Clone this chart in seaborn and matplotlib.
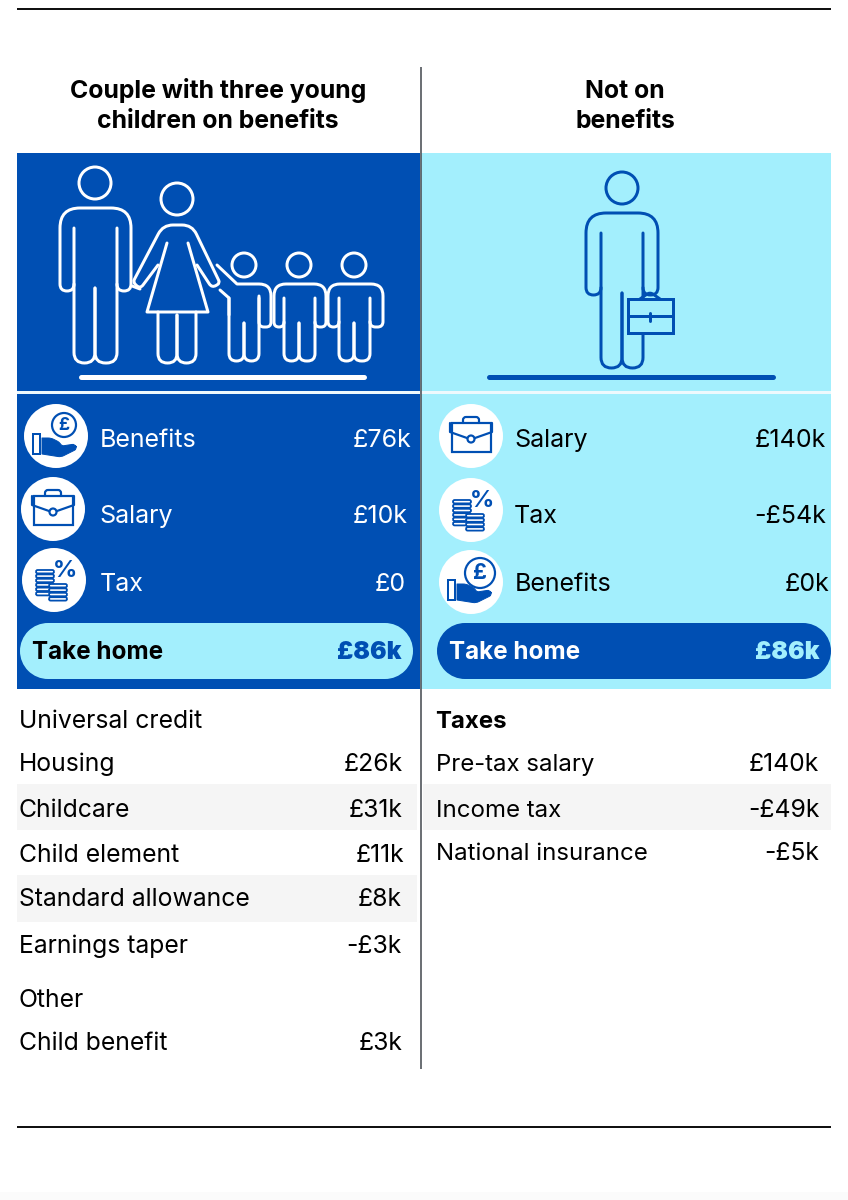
import matplotlib
matplotlib.use("Agg")
import matplotlib.pyplot as plt
import seaborn as sns
from matplotlib.patches import Circle, FancyBboxPatch, PathPatch, Rectangle
from matplotlib.path import Path

BLUE = "#004fb3"
CYAN = "#a3effd"
STRIPE = "#f5f5f5"
DIVIDER = "#4a4f55"

left_title = ["Couple with three young", "children on benefits"]
right_title = ["Not on", "benefits"]

left_summary_labels = ["Benefits", "Salary", "Tax"]
left_summary_values = ["£76k", "£10k", "£0"]
right_summary_labels = ["Salary", "Tax", "Benefits"]
right_summary_values = ["£140k", "-£54k", "£0k"]
take_home = "£86k"

left_detail_labels = ["Universal credit", "Housing", "Childcare", "Child element",
                      "Standard allowance", "Earnings taper", "Other", "Child benefit"]
left_detail_values = ["", "£26k", "£31k", "£11k", "£8k", "-£3k", "", "£3k"]
right_detail_labels = ["Taxes", "Pre-tax salary", "Income tax", "National insurance"]
right_detail_values = ["", "£140k", "-£49k", "-£5k"]

# layout, all in image pixels
left_summary_y = [447, 523, 591]
left_summary_x = [100, 99, 100]
left_summary_right = [411, 408, 406]
right_summary_y = [447, 523, 591]
right_summary_x = [514, 514, 515]
right_summary_right = [826, 826, 829]
left_detail_y = [728, 771, 817, 862, 906, 953, 1007, 1050]
left_detail_right = [403, 403, 402, 404, 402, 402, 403, 403]
right_detail_y = [728, 771, 817, 860]
right_detail_right = [819, 819, 820, 819]

sns.set_theme(style="white")
plt.rcParams["font.family"] = ["Inter", "DejaVu Sans"]

W, H = 848, 1200
fig = plt.figure(figsize=(W / 100, H / 100), dpi=100)
ax = fig.add_axes([0, 0, 1, 1])
ax.set_xlim(0, W)
ax.set_ylim(H, 0)
ax.axis("off")


def px(v):
    # pixel width -> points
    return v * 72 / 100


def round_line(points, color, lw=3, fill=None, zorder=5, closed=False):
    # points are (x, y) or (x, y, corner radius)
    pts = [(p[0], p[1], p[2] if len(p) > 2 else 0) for p in points]
    verts, codes = [pts[0][:2]], [Path.MOVETO]
    for i in range(1, len(pts) - 1):
        x, y, r = pts[i]
        if r == 0:
            verts.append((x, y))
            codes.append(Path.LINETO)
            continue
        x0, y0 = pts[i - 1][:2]
        x1, y1 = pts[i + 1][:2]
        d0 = ((x0 - x) ** 2 + (y0 - y) ** 2) ** 0.5
        d1 = ((x1 - x) ** 2 + (y1 - y) ** 2) ** 0.5
        a = (x + (x0 - x) * r / d0, y + (y0 - y) * r / d0)
        b = (x + (x1 - x) * r / d1, y + (y1 - y) * r / d1)
        verts += [a, (x, y), b]
        codes += [Path.LINETO, Path.CURVE3, Path.CURVE3]
    verts.append(pts[-1][:2])
    codes.append(Path.LINETO)
    if closed:
        verts.append(pts[0][:2])
        codes.append(Path.CLOSEPOLY)
    ax.add_patch(PathPatch(Path(verts, codes), fc=fill or "none", ec=color, lw=px(lw),
                           capstyle="round", joinstyle="round", zorder=zorder))


def head(cx, cy, r, color, lw=3):
    ax.add_patch(Circle((cx, cy), r, fc="none", ec=color, lw=px(lw), zorder=5))


def legs(l, r, cx, crotch, bottom, color, lw=3, top=None):
    start = top if top else crotch - 10
    rad = (cx - l) / 2
    round_line([(l, start), (l, bottom, rad), (cx, bottom, rad), (cx, crotch)], color, lw)
    round_line([(r, start), (r, bottom, rad), (cx, bottom, rad), (cx, crotch)], color, lw)


def figure_body(cx, head_y, head_r, outer_l, outer_r, inner_l, inner_r, top, inner_top,
                arm_bottom, crotch, bottom, color, shoulder=20, lw=3):
    head(cx, head_y, head_r, color, lw)
    arm_r = (inner_l - outer_l) / 2
    round_line([(inner_l, arm_bottom - arm_r), (inner_l, arm_bottom, arm_r), (outer_l, arm_bottom, arm_r),
                (outer_l, top, shoulder), (outer_r, top, shoulder), (outer_r, arm_bottom, arm_r),
                (inner_r, arm_bottom, arm_r), (inner_r, arm_bottom - arm_r)], color, lw)
    legs(inner_l, inner_r, cx, crotch, bottom, color, lw=lw, top=inner_top)


def family():
    c = "white"
    figure_body(95, 183, 16, 60, 131, 74, 117, 208, 228, 291, 288, 363, c)
    # woman
    head(177, 199, 16, c)
    round_line([(158, 265), (140, 289, 5), (133, 282, 3), (163, 225, 10), (192, 225, 10),
                (220, 283, 3), (212, 288, 5), (197, 265)], c)
    round_line([(167, 243), (147, 312), (208, 312), (188, 243)], c)
    round_line([(140, 289), (132, 286)], c)
    legs(158, 196, 177, 315, 363, c, top=312)
    # child holding the woman's hand
    head(244, 265, 12, c)
    round_line([(217, 265), (237, 284), (271, 284, 12), (271, 327, 5), (259, 327, 5), (259, 296)], c)
    round_line([(220, 290), (229, 298), (229, 315)], c)
    legs(229, 259, 244, 323, 361, c, top=298)
    figure_body(299, 265, 12, 274, 326, 284, 315, 284, 298, 327, 323, 361, c, shoulder=12)
    figure_body(354, 265, 12, 328, 383, 339, 370, 284, 298, 327, 323, 361, c, shoulder=12)
    round_line([(81, 377), (364, 377)], c, lw=5)


def lone_man():
    c = BLUE
    figure_body(622, 188, 16, 586, 658, 601, 643, 213, 233, 295, 293, 368, c)
    round_line([(640, 299), (650, 292, 4), (660, 299)], c)
    ax.add_patch(Rectangle((628, 299), 45, 34, fc=CYAN, ec=c, lw=px(3), zorder=6))
    round_line([(628, 316), (673, 316)], c, zorder=7)
    round_line([(650, 313), (650, 321)], c, lw=3, zorder=7)
    round_line([(489, 377), (773, 377)], c, lw=5)


def icon_case(cx, cy):
    c = BLUE
    lw = 2.2
    ax.add_patch(Rectangle((cx - 19, cy - 13), 39, 29, fc="none", ec=c, lw=px(lw), zorder=5))
    round_line([(cx - 21, cy - 13), (cx - 21, cy - 4), (cx - 4, cy + 2)], c, lw)
    round_line([(cx + 21, cy - 13), (cx + 21, cy - 4), (cx + 4, cy + 2)], c, lw)
    round_line([(cx - 8, cy - 13), (cx - 8, cy - 19, 3), (cx + 8, cy - 19, 3), (cx + 8, cy - 13)], c, lw)
    ax.add_patch(Circle((cx, cy + 3), 3.5, fc="white", ec=c, lw=px(lw), zorder=6))


def icon_coins(cx, cy):
    c = BLUE
    lw = 1.8
    for sx, y0, n in [(cx - 9, cy - 10, 6), (cx + 4, cy + 4, 4)]:
        for i in range(n):
            y = y0 + i * 4.4
            ax.add_patch(FancyBboxPatch((sx - 9, y), 18, 3.4, boxstyle="round,pad=0,rounding_size=1.7",
                                        fc="white", ec=c, lw=px(lw), zorder=5 + (sx > cx - 5)))
    ax.text(cx + 11, cy - 9, "%", color=c, fontsize=px(24), fontweight="bold", ha="center", va="center", zorder=7)


def icon_hand(cx, cy, coin_dx=8, coin_dy=-11, coin_r=12):
    c = BLUE
    ax.add_patch(Rectangle((cx - 23, cy - 2), 6.5, 20, fc="none", ec=c, lw=px(2), zorder=5))
    round_line([(cx - 14, cy + 2), (cx - 5, cy + 2, 3), (cx + 3, cy + 6, 2), (cx + 6, cy + 10, 2), (cx + 19, cy + 8, 3),
                (cx + 21, cy + 13, 3), (cx + 5, cy + 21, 3), (cx - 14, cy + 18)], c, lw=1, fill=c, closed=True)
    ax.add_patch(Circle((cx + coin_dx, cy + coin_dy), coin_r, fc="white", ec=c, lw=px(2.2), zorder=6))
    ax.text(cx + coin_dx, cy + coin_dy, "£", color=c, fontsize=px(coin_r * 1.45), fontweight="bold",
            ha="center", va="center", zorder=7)


def pill(x0, x1, y0, y1, color):
    r = (y1 - y0) / 2
    ax.add_patch(Rectangle((x0 + r, y0), x1 - x0 - 2 * r, y1 - y0, fc=color, ec="none", zorder=3))
    ax.add_patch(Circle((x0 + r, y0 + r), r, fc=color, ec="none", zorder=3))
    ax.add_patch(Circle((x1 - r, y0 + r), r, fc=color, ec="none", zorder=3))


# background panels and rules
ax.add_patch(Rectangle((17, 153), 403, 536, fc=BLUE, ec="none", zorder=1))
ax.add_patch(Rectangle((421, 153), 410, 536, fc=CYAN, ec="none", zorder=1))
ax.add_patch(Rectangle((17, 391), 814, 3, fc="#eef9fd", ec="none", zorder=2))
ax.add_patch(Rectangle((0, 1192), W, 8, fc="#fbfbfb", ec="none", zorder=0))
for y0, y1 in [(784, 830), (875, 922)]:
    ax.add_patch(Rectangle((17, y0), 400, y1 - y0, fc=STRIPE, ec="none", zorder=1))
ax.add_patch(Rectangle((423, 784), 408, 46, fc=STRIPE, ec="none", zorder=1))
ax.plot([17, 831], [9, 9], color="#111111", lw=px(2), zorder=3, solid_capstyle="butt")
ax.plot([17, 831], [1127, 1127], color="#111111", lw=px(2), zorder=3, solid_capstyle="butt")
ax.plot([421, 421], [67, 1069], color=DIVIDER, lw=px(1.6), zorder=4, solid_capstyle="butt")

# white discs behind the small icons
disc_x = [56, 53, 54, 471, 471, 471]
disc_y = [436, 509, 580, 436, 510, 582]
sns.scatterplot(x=disc_x, y=disc_y, s=px(64) ** 2, color="white", edgecolor="none", ax=ax, zorder=3, legend=False)
ax.set_xlim(0, W)
ax.set_ylim(H, 0)

family()
lone_man()
icon_hand(56, 436)
icon_case(53, 509)
icon_coins(54, 580)
icon_case(471, 436)
icon_coins(471, 510)
icon_hand(471, 582, coin_dx=9, coin_dy=-9, coin_r=15)

# headers
for y, s in zip([98, 128], left_title):
    ax.text(218, y, s, fontsize=px(24.8), fontweight="bold", color="black", ha="center", zorder=6)
for y, s in zip([98, 128], right_title):
    ax.text(625, y, s, fontsize=px(24.8), fontweight="bold", color="black", ha="center", zorder=6)

# summary rows
for lab, val, x, xr, y in zip(left_summary_labels, left_summary_values, left_summary_x, left_summary_right, left_summary_y):
    ax.text(x, y, lab, fontsize=px(25), color="white", zorder=6)
    ax.text(xr, y, val, fontsize=px(25), color="white", ha="right", zorder=6)
for lab, val, x, xr, y in zip(right_summary_labels, right_summary_values, right_summary_x, right_summary_right, right_summary_y):
    ax.text(x, y, lab, fontsize=px(25), color="black", zorder=6)
    ax.text(xr, y, val, fontsize=px(25), color="black", ha="right", zorder=6)

# take home pills
pill(20, 413, 623, 679, CYAN)
pill(437, 831, 623, 679, BLUE)
ax.text(32, 659, "Take home", fontsize=px(24.3), fontweight="bold", color="black", zorder=6)
ax.text(401, 659, take_home, fontsize=px(24.5), fontweight="black", color=BLUE, ha="right", zorder=6)
ax.text(449, 659, "Take home", fontsize=px(24.3), fontweight="bold", color="white", zorder=6)
ax.text(819, 659, take_home, fontsize=px(24.5), fontweight="black", color=CYAN, ha="right", zorder=6)

# detail tables
for lab, val, xr, y in zip(left_detail_labels, left_detail_values, left_detail_right, left_detail_y):
    ax.text(19, y, lab, fontsize=px(24.7), color="black", zorder=6)
    ax.text(xr, y, val, fontsize=px(24.7), color="black", ha="right", zorder=6)
for i, (lab, val, xr, y) in enumerate(zip(right_detail_labels, right_detail_values, right_detail_right, right_detail_y)):
    ax.text(435 if i == 0 else 436, y, lab, fontsize=px(24) if i else px(24), color="black",
            fontweight="bold" if i == 0 else "normal", zorder=6)
    ax.text(xr, y, val, fontsize=px(24.7), color="black", ha="right", zorder=6)

fig.savefig("out.png", dpi=100)
